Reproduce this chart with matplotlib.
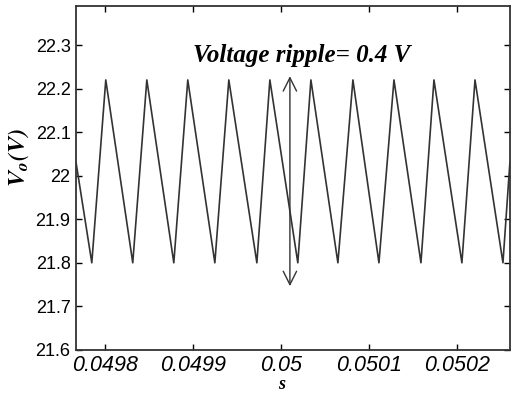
import matplotlib
matplotlib.use('Agg')
import matplotlib.pyplot as plt

plt.rcParams['mathtext.fontset'] = 'stix'

# Vertices of the ripple waveform (time in s, voltage in V)
t = [0.049767, 0.0497849, 0.0498008, 0.0498315, 0.0498475, 0.0498782, 0.0498941,
     0.0499249, 0.0499408, 0.0499727, 0.0499875, 0.0500193, 0.0500342, 0.0500649,
     0.0500820, 0.0501116, 0.0501287, 0.0501594, 0.0501742, 0.0502060, 0.0502209,
     0.0502527, 0.0502606]
v = [22.03, 21.80, 22.22, 21.80, 22.22, 21.80, 22.22,
     21.80, 22.22, 21.80, 22.22, 21.80, 22.22, 21.80,
     22.22, 21.80, 22.22, 21.80, 22.22, 21.80, 22.22,
     21.80, 22.03]

xticks = [0.0498, 0.0499, 0.05, 0.0501, 0.0502]
xticklabels = ['0.0498', '0.0499', '0.05', '0.0501', '0.0502']
yticks = [21.6, 21.7, 21.8, 21.9, 22.0, 22.1, 22.2, 22.3]
yticklabels = ['21.6', '21.7', '21.8', '21.9', '22', '22.1', '22.2', '22.3']

fig = plt.figure(figsize=(5.14, 3.94), dpi=100)
ax = fig.add_axes([0.148, 0.112, 0.844, 0.873])

ax.plot(t, v, color='#333333', lw=1.2)

# ripple arrow and annotation
ax.annotate('', xy=(0.0500103, 21.74), xytext=(0.0500103, 22.235),
            arrowprops=dict(arrowstyle='<->', color='#333333', lw=1.0,
                            mutation_scale=24))
ax.text(0.050024, 22.275, 'Voltage ripple= 0.4 V', ha='center', va='center',
        family='Liberation Serif', weight='bold', style='italic', fontsize=18)

ax.set_xlim(0.049767, 0.0502606)
ax.set_ylim(21.6, 22.39)
ax.set_xticks(xticks)
ax.set_xticklabels(xticklabels, family='Liberation Sans', style='italic', fontsize=15.5)
ax.set_yticks(yticks)
ax.set_yticklabels(yticklabels, family='Liberation Sans', fontsize=13)
ax.tick_params(direction='in', top=True, right=True, length=4, width=1, pad=4)
for s in ax.spines.values():
    s.set_linewidth(1.3)
    s.set_color('#333333')

ax.set_ylabel(r'$\mathbfit{V}_{\mathbfit{o}}\mathbfit{(V)}$', fontsize=17.5)
ax.yaxis.set_label_coords(-0.103, 0.56)
ax.set_xlabel('s', family='Liberation Serif', weight='bold', style='italic', fontsize=13)
ax.xaxis.set_label_coords(0.474, -0.077)

fig.savefig('out.png', dpi=100)
